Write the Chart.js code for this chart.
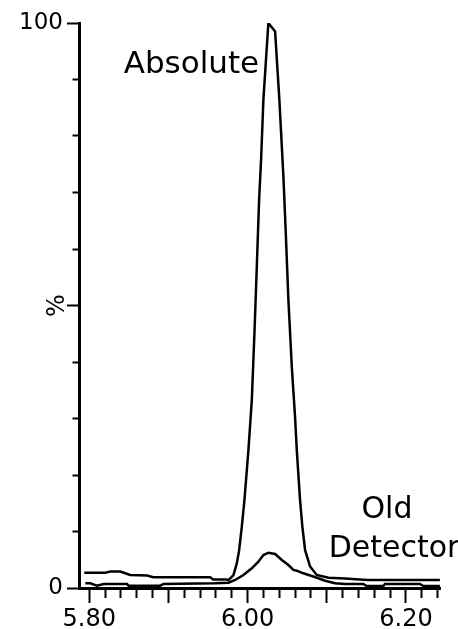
<!DOCTYPE html>
<html lang="en">

<head>
    <meta charset="UTF-8">
    <script src="https://cdn.jsdelivr.net/npm/chart.js@4"></script>
    <title>Absolute x Old Detector</title>

    <style>
        html, body { margin: 0; padding: 0; background: #fff; }
        .grafico_sty { width: 458px; height: 629px; }
    </style>
</head>

<body>

    <div class="grafico_sty">
        <canvas id="grafico_1"></canvas>
    </div>

    <script>

        // tempo (min) e sinal (%)
        const tempoAbsolute = [5.7937, 5.8202, 5.8265, 5.8391, 5.8517, 5.8732, 5.8808, 5.9527, 5.9565, 5.9729,
            5.9758, 5.9821, 5.9864, 5.9893, 5.9927, 5.9960, 6.0010, 6.0053, 6.0086, 6.0116, 6.0145, 6.0170,
            6.0199, 6.0262, 6.0347, 6.0401, 6.0452, 6.0482, 6.0515, 6.0558, 6.0599, 6.0621, 6.0662, 6.0691,
            6.0726, 6.0789, 6.0873, 6.1020, 6.1230, 6.1508, 6.2429];
        const sinalAbsolute = [2.7, 2.7, 2.9, 2.9, 2.3, 2.2, 1.9, 1.9, 1.5, 1.5,
            1.4, 2.3, 4.4, 6.7, 10.9, 15.6, 24.4, 33.3, 45.1, 56.9, 68.7, 75.8,
            86.4, 100, 98.5, 86.4, 72.8, 62.8, 51.0, 39.2, 30.3, 24.4, 15.6, 10.9,
            6.7, 3.8, 2.3, 1.8, 1.7, 1.4, 1.4];

        const tempoOld = [5.7950, 5.8013, 5.8097, 5.8180, 5.8476, 5.8496, 5.8896, 5.8938, 5.9590, 5.9758,
            5.9842, 5.9947, 6.0053, 6.0136, 6.0199, 6.0262, 6.0347, 6.0432, 6.0515, 6.0578, 6.0621,
            6.0704, 6.0810, 6.0893, 6.0978, 6.1104, 6.1230, 6.1461, 6.1504, 6.1714, 6.1735, 6.2177,
            6.2218, 6.2429];
        const sinalOld = [0.83, 0.83, 0.41, 0.71, 0.71, 0.41, 0.41, 0.71, 0.83, 0.94,
            1.42, 2.30, 3.49, 4.65, 5.84, 6.25, 6.02, 4.96, 4.07, 3.19, 3.06,
            2.60, 2.12, 1.72, 1.29, 0.83, 0.71, 0.71, 0.35, 0.35, 0.71, 0.71,
            0.35, 0.35];

        const rotulosX = [5.80, 6.00, 6.20];
        const rotulosY = [0, 100];
        const textosSeries = ['Absolute', 'Old', 'Detector'];

        const pontos = (xs, ys) => xs.map((v, i) => ({ x: v, y: ys[i] }));

        Chart.defaults.font.family = '"DejaVu Sans"';
        Chart.defaults.color = '#000';

        // textos das séries, posicionados pelas escalas
        const anotacoes = {
            id: 'anotacoes',
            afterDatasetsDraw(chart, args, opts) {
                const { ctx, scales } = chart;
                ctx.save();
                ctx.fillStyle = '#000';
                ctx.textAlign = 'center';
                ctx.textBaseline = 'alphabetic';
                opts.itens.forEach(it => {
                    ctx.font = it.size + 'px "DejaVu Sans"';
                    ctx.fillText(it.texto, scales.x.getPixelForValue(it.x), scales.y.getPixelForValue(it.y));
                });
                ctx.restore();
            }
        };

        const ctx = document.getElementById('grafico_1');

        const grafico_1 = new Chart(ctx, {
            type: 'line',
            data: {
                datasets: [{
                    label: 'Absolute',
                    data: pontos(tempoAbsolute, sinalAbsolute),
                    borderColor: '#000',
                    borderWidth: 2.5,
                    pointRadius: 0,
                    tension: 0
                }, {
                    label: 'Old Detector',
                    data: pontos(tempoOld, sinalOld),
                    borderColor: '#000',
                    borderWidth: 2.5,
                    pointRadius: 0,
                    tension: 0
                }]
            },
            options: {
                responsive: true,
                maintainAspectRatio: false,
                animation: false,
                devicePixelRatio: 1,
                layout: { padding: { top: 23, right: 18, left: 0, bottom: 0 } },
                plugins: {
                    legend: { display: false },
                    tooltip: { enabled: false },
                    anotacoes: {
                        itens: [
                            { texto: textosSeries[0], x: 5.929, y: 91.2, size: 31 },
                            { texto: textosSeries[1], x: 6.176, y: 12.4, size: 30 },
                            { texto: textosSeries[2], x: 6.185, y: 5.5, size: 30 }
                        ]
                    }
                },
                scales: {
                    x: {
                        type: 'linear',
                        min: 5.787,
                        max: 6.243,
                        afterFit: s => { s.height = 41; },
                        border: { display: true, width: 3, color: '#000' },
                        grid: {
                            drawOnChartArea: false,
                            tickLength: 15,
                            tickWidth: 2,
                            tickColor: '#000',
                            tickBorderDash: c => (c.tick && Math.round(c.tick.value * 100) % 10 !== 0) ? [8, 40] : []
                        },
                        ticks: {
                            stepSize: 0.02,
                            includeBounds: false,
                            autoSkip: false,
                            maxRotation: 0,
                            minRotation: 0,
                            padding: 2,
                            font: { size: 24 },
                            color: '#000',
                            callback: v => rotulosX.some(r => Math.abs(r - v) < 1e-6) ? v.toFixed(2) : ''
                        }
                    },
                    y: {
                        min: 0,
                        max: 100,
                        afterFit: s => { s.width = 79; },
                        border: { display: true, width: 3, color: '#000' },
                        grid: {
                            drawOnChartArea: false,
                            tickLength: 12,
                            tickWidth: 2,
                            tickColor: '#000',
                            tickBorderDash: c => (c.tick && c.tick.value % 50 !== 0) ? [0, 5.5, 20, 0] : []
                        },
                        ticks: {
                            stepSize: 10,
                            autoSkip: false,
                            padding: 4,
                            font: { size: 23 },
                            color: '#000',
                            callback: v => rotulosY.includes(v) ? String(v) : ''
                        },
                        title: {
                            display: true,
                            text: '%',
                            color: '#000',
                            font: { size: 24 },
                            padding: { top: 43, bottom: 0 }
                        }
                    }
                }
            },
            plugins: [anotacoes]
        });

    </script>

</body>

</html>
